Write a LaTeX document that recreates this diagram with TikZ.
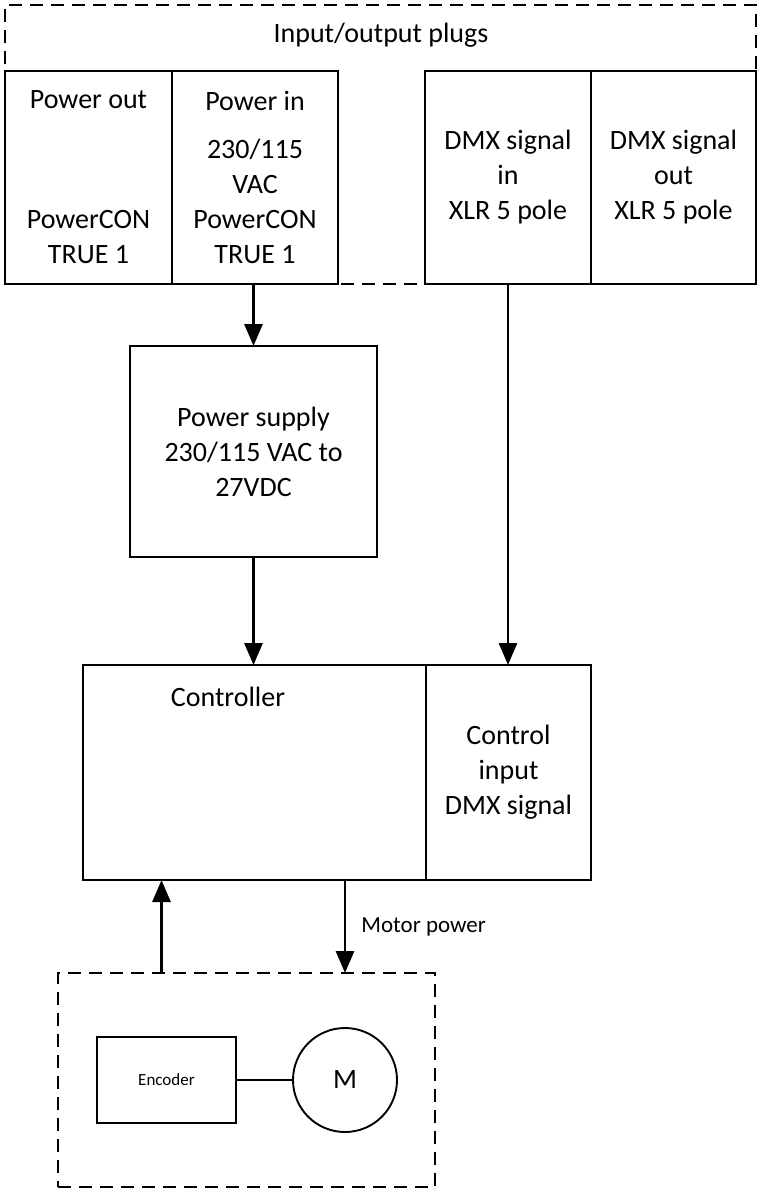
\documentclass[tikz,border=0pt]{standalone}
\usepackage{fontspec}
\setmainfont{Carlito}
\usepackage{tikz}
\usetikzlibrary{positioning,arrows.meta,calc}

\begin{document}
\begin{tikzpicture}[
  x=1pt, y=-1pt,
  every node/.style={font=\fontsize{28}{35}\selectfont},
  box/.style={draw, line width=1.9pt, outer sep=0pt, inner sep=0pt, align=center},
  plug/.style={box, minimum width=166pt, minimum height=213pt},
  frame/.style={draw, line width=1.9pt, dash pattern=on 13pt off 8pt,
                outer sep=0pt, inner sep=0pt},
  arr/.style={-{Triangle[width=18pt,length=22pt]}, line width=2.9pt}
]
  \useasboundingbox (0,0) rectangle (757,1189);

  % Plug panel: dashed frame, then the four connectors
  \node[frame, anchor=north west, minimum width=751pt, minimum height=279pt] (plugs) at (5,5) {};
  \node (plugsttl) at (381,35) {Input/output plugs};

  \node[plug, minimum width=167pt, anchor=north west] (pout) at (5,71) {%
    Power out\\[85pt]PowerCON\\TRUE 1};
  \node[plug, right=0pt of pout] (pin) {%
    Power in\\[13pt]230/115\\VAC\\PowerCON\\TRUE 1};
  \node[plug, anchor=north west] (dmxin) at (425,71) {%
    DMX signal\\in\\XLR 5 pole};
  \node[plug, minimum width=165pt, right=0pt of dmxin] (dmxout) {%
    DMX signal\\out\\XLR 5 pole};

  % Power supply and controller
  \node[box, anchor=north west, minimum width=247pt, minimum height=211pt] (psu) at (130,346) {%
    Power supply\\230/115 VAC to\\27VDC};
  \node[box, anchor=north west, minimum width=343pt, minimum height=215pt] (ctrl) at (83,665) {};
  \node (ctrlttl) at (228,697) {Controller};
  \node[box, minimum width=165pt, minimum height=215pt, right=0pt of ctrl] (ctrlin) {%
    Control\\input\\DMX signal};

  % Motor unit
  \node[frame, anchor=north west, minimum width=377pt, minimum height=214pt] (drive) at (58,973) {};
  \node[box, anchor=north west, minimum width=139pt, minimum height=86pt,
        font=\fontsize{17}{20}\selectfont] (enc) at (97,1037) {Encoder};
  \node[box, circle, minimum size=104pt] (mot) at (345,1080) {M};
  \coordinate (fb) at ($(enc.north)+(-5,0)$);

  % Arrows
  \draw[arr] (psu.north |- pin.south) -- (psu.north);
  \draw[arr] (psu.south) -- (psu.south |- ctrl.north);
  \draw[arr] (dmxin.south) -- (dmxin.south |- ctrlin.north);
  \draw[arr] (mot.north |- ctrl.south) -- (mot.north |- drive.north)
    node[midway, right=15pt, inner sep=0pt, font=\fontsize{23}{27}\selectfont] (mpwr) {Motor power};
  \draw[arr] (fb |- drive.north) -- (fb |- ctrl.south);
  \draw[line width=1.9pt] (enc.east) -- (mot.west);
\end{tikzpicture}
\end{document}
